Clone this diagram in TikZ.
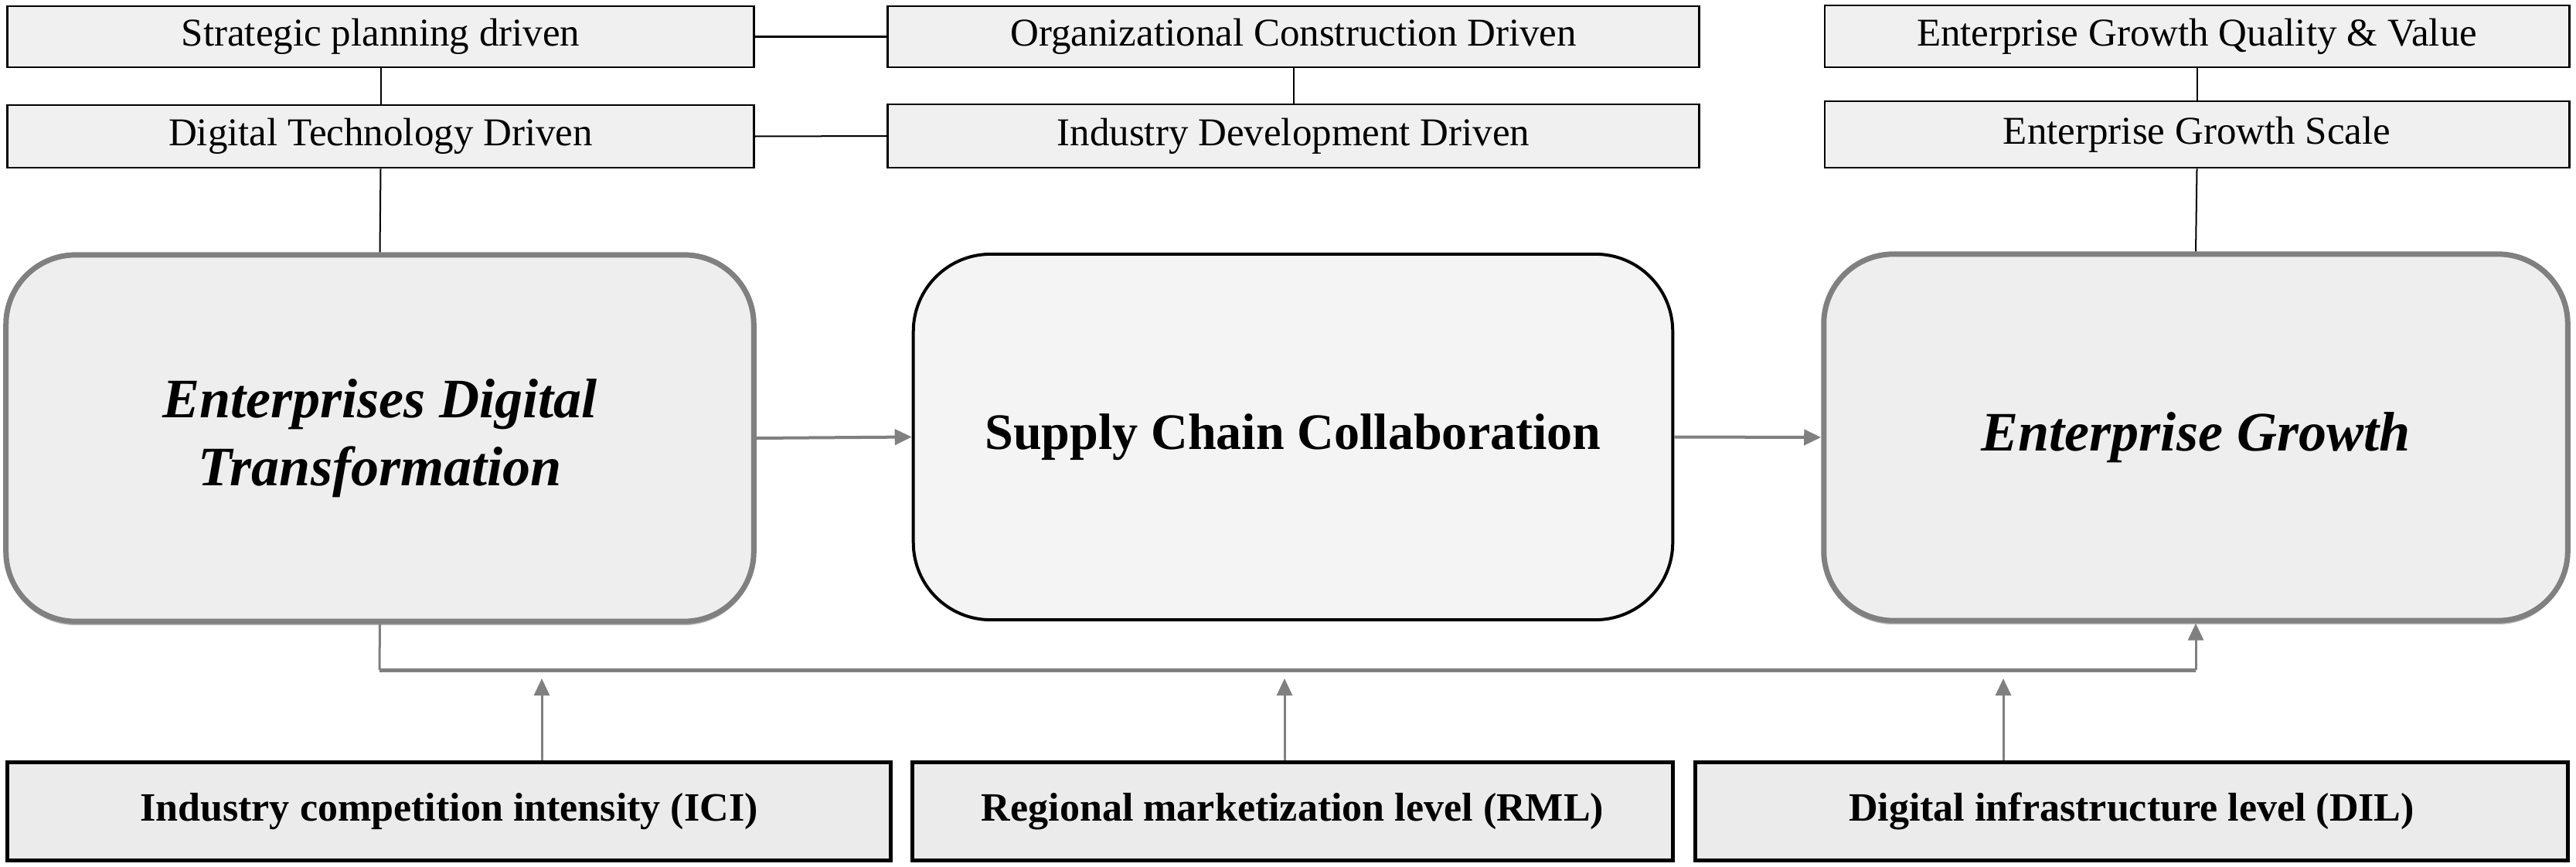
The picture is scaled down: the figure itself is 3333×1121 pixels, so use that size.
\documentclass[tikz,border=0pt]{standalone}
\usepackage{fontspec}
\setmainfont{Liberation Serif}
\usetikzlibrary{arrows.meta,shadows}
\definecolor{linegray}{HTML}{808080}
\definecolor{topfill}{HTML}{F0F0F0}
\definecolor{bigfill}{HTML}{EEEEEE}
\definecolor{midfill}{HTML}{F4F4F4}
\definecolor{botfill}{HTML}{EBEBEB}
\tikzset{
  topbox/.style={draw=black, line width=0.025cm, fill=topfill, inner sep=0pt,
    font=\fontsize{14.5pt}{17pt}\selectfont},
  bigbox/.style={draw=linegray, line width=0.07cm, fill=bigfill, rounded corners=0.9cm,
    inner sep=0pt, align=center,
    drop shadow={shadow xshift=0cm, shadow yshift=-0.05cm, fill=black!45, opacity=0.6}},
  midbox/.style={draw=black, line width=0.04cm, fill=midfill, rounded corners=1cm,
    inner sep=0pt, align=center},
  botbox/.style={draw=black, line width=0.05cm, fill=botfill, inner sep=0pt,
    font=\bfseries\fontsize{14.8pt}{17pt}\selectfont},
  thin/.style={draw=black, line width=0.02cm},
  grayarrow/.style={draw=linegray, line width=0.04cm,
    -{Triangle[length=0.22cm,width=0.2cm]}, color=linegray},
  upArrow/.style={draw=linegray, line width=0.03cm,
    -{Triangle[length=0.22cm,width=0.2cm]}, color=linegray},
  busline/.style={draw=linegray, line width=0.05cm}
}
\begin{document}
\begin{tikzpicture}[x=0.01cm,y=-0.01cm]
\useasboundingbox (0,0) rectangle (3333,1121);

% top boxes
\node[topbox, minimum width=9.65cm, minimum height=0.79cm] (spd) at (492.5,47.5) {Strategic planning driven};
\node[topbox, minimum width=9.65cm, minimum height=0.81cm] (dtd) at (492.5,176.5) {Digital Technology Driven};
\node[topbox, minimum width=10.49cm, minimum height=0.79cm] (ocd) at (1673.5,47.5) {Organizational Construction Driven};
\node[topbox, minimum width=10.49cm, minimum height=0.82cm] (idd) at (1673.5,176) {Industry Development Driven};
\node[topbox, minimum width=9.63cm, minimum height=0.80cm] (egq) at (2842.5,47) {Enterprise Growth Quality \& Value};
\node[topbox, minimum width=9.63cm, minimum height=0.86cm] (egs) at (2842.5,174) {Enterprise Growth Scale};

% big boxes
\node[bigbox, minimum width=9.67cm, minimum height=4.74cm,
  font=\bfseries\itshape\fontsize{20.5pt}{25pt}\selectfont] (edt) at (491.5,567)
  {Enterprises Digital\\Transformation};
\node[midbox, minimum width=9.82cm, minimum height=4.73cm,
  font=\bfseries\fontsize{18.8pt}{22pt}\selectfont] (scc) at (1673,565.5)
  {Supply Chain Collaboration};
\node[bigbox, minimum width=9.62cm, minimum height=4.74cm,
  font=\bfseries\itshape\fontsize{20.5pt}{25pt}\selectfont] (eg) at (2841,566)
  {Enterprise Growth};

% bottom boxes
\node[botbox, minimum width=11.42cm, minimum height=1.26cm] (ici) at (581,1050) {Industry competition intensity (ICI)};
\node[botbox, minimum width=9.83cm, minimum height=1.26cm] (rml) at (1672.5,1050) {Regional marketization level (RML)};
\node[botbox, minimum width=11.28cm, minimum height=1.26cm] (dil) at (2758,1050) {Digital infrastructure level (DIL)};

% thin black connectors
\draw[thin] (spd.east) -- (ocd.west);
\draw[thin] (dtd.east) -- (idd.west);
\draw[thin] (spd.south) -- (dtd.north);
\draw[thin] (dtd.south) -- (edt.north);
\draw[thin] (ocd.south) -- (idd.north);
\draw[thin] (egq.south) -- (egs.north);
\draw[thin] (egs.south) -- (eg.north);

% main arrows
\draw[grayarrow] (edt.east) -- (scc.west);
\draw[grayarrow] (scc.east) -- (eg.west);

% bus
\coordinate (busL) at (491,867);
\coordinate (busR) at (2841,867);
\draw[draw=linegray, line width=0.03cm] (edt.south) -- (busL);
\draw[busline] (busL) -- (busR);
\draw[upArrow] (busR) -- (eg.south);

% moderator arrows
\coordinate (t1) at (701,878);
\coordinate (t2) at (1662,878);
\coordinate (t3) at (2592,878);
\draw[upArrow] (t1 |- ici.north) -- (t1);
\draw[upArrow] (t2 |- rml.north) -- (t2);
\draw[upArrow] (t3 |- dil.north) -- (t3);
\end{tikzpicture}
\end{document}
